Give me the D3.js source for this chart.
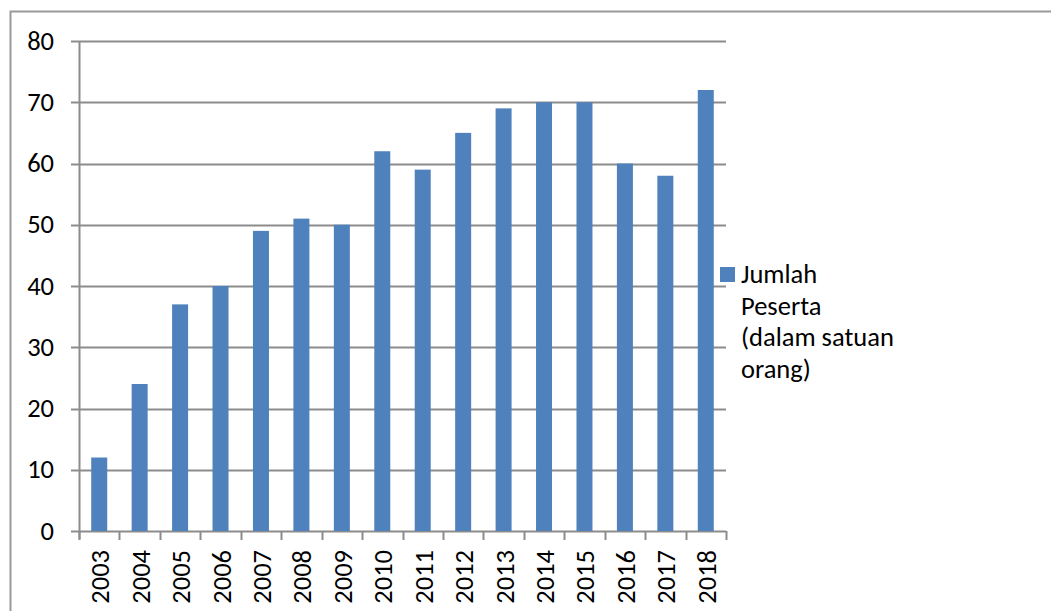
<!DOCTYPE html>
<html>
<head>
<meta charset="utf-8">
<script src="https://cdn.jsdelivr.net/npm/d3@7"></script>
<style>
  body { margin: 0; background: #fff; }
  text { font-family: Carlito, Lato, "Liberation Sans", sans-serif; fill: #000; }
</style>
</head>
<body>
<script>
  var years = ["2003", "2004", "2005", "2006", "2007", "2008", "2009", "2010",
               "2011", "2012", "2013", "2014", "2015", "2016", "2017", "2018"];
  var peserta = [12, 24, 37, 40, 49, 51, 50, 62, 59, 65, 69, 70, 70, 60, 58, 72];
  var yTicks = [0, 10, 20, 30, 40, 50, 60, 70, 80];
  var legendLines = ["Jumlah", "Peserta", "(dalam satuan", "orang)"];

  var width = 1051, height = 611;
  var plot = { left: 79, right: 726, top: 41, bottom: 531 };
  var fontSize = "26.5px";

  var svg = d3.select("body").append("svg")
    .attr("width", width).attr("height", height);

  // outer chart frame (only top and left edges are visible)
  svg.append("path")
    .attr("d", "M10.5," + height + "V11.5H" + width)
    .attr("fill", "none").attr("stroke", "#9a9a9a").attr("stroke-width", 2);

  var x = d3.scaleBand().domain(years).range([plot.left, plot.right]);
  var y = d3.scaleLinear().domain([0, 80]).range([plot.bottom, plot.top]);

  // gridlines + y ticks
  svg.append("g").selectAll("line").data(yTicks).enter().append("line")
    .attr("x1", plot.left - 8).attr("x2", plot.right)
    .attr("y1", function(d) { return Math.round(y(d)) + 0.5; })
    .attr("y2", function(d) { return Math.round(y(d)) + 0.5; })
    .attr("stroke", "#8c8c8c").attr("stroke-width", 2);

  svg.append("g").selectAll("text").data(yTicks).enter().append("text")
    .attr("x", 54)
    .attr("y", function(d) { return y(d) + 8.5; })
    .attr("text-anchor", "end")
    .style("font-size", fontSize)
    .text(function(d) { return d; });

  // y axis line
  svg.append("line")
    .attr("x1", plot.left + 0.5).attr("x2", plot.left + 0.5)
    .attr("y1", plot.top).attr("y2", plot.bottom + 8)
    .attr("stroke", "#8c8c8c").attr("stroke-width", 2);

  // bars
  var barW = 16;
  svg.append("g").selectAll("rect").data(peserta).enter().append("rect")
    .attr("x", function(d, i) { return x(years[i]) + x.bandwidth() / 2 - barW / 2; })
    .attr("width", barW)
    .attr("y", function(d) { return y(d); })
    .attr("height", function(d) { return y(0) - y(d); })
    .attr("fill", "#4f81bd");

  // x axis ticks between categories
  var tickPos = years.map(function(d) { return x(d); }).concat([plot.right]);
  svg.append("g").selectAll("line").data(tickPos).enter().append("line")
    .attr("x1", function(d) { return Math.round(d) + 0.5; })
    .attr("x2", function(d) { return Math.round(d) + 0.5; })
    .attr("y1", plot.bottom).attr("y2", plot.bottom + 9)
    .attr("stroke", "#8c8c8c").attr("stroke-width", 2);

  svg.append("g").selectAll("text").data(years).enter().append("text")
    .attr("transform", function(d) {
      return "translate(" + (x(d) + x.bandwidth() / 2 + 10) + "," + 550 + ") rotate(-90)";
    })
    .attr("text-anchor", "end")
    .style("font-size", fontSize)
    .text(function(d) { return d; });

  // legend
  svg.append("rect")
    .attr("x", 720).attr("y", 267).attr("width", 15).attr("height", 15)
    .attr("fill", "#4f81bd");

  svg.append("g").selectAll("text").data(legendLines).enter().append("text")
    .attr("x", 741)
    .attr("y", function(d, i) { return 283 + i * 31.5; })
    .style("font-size", fontSize)
    .text(function(d) { return d; });
</script>
</body>
</html>
